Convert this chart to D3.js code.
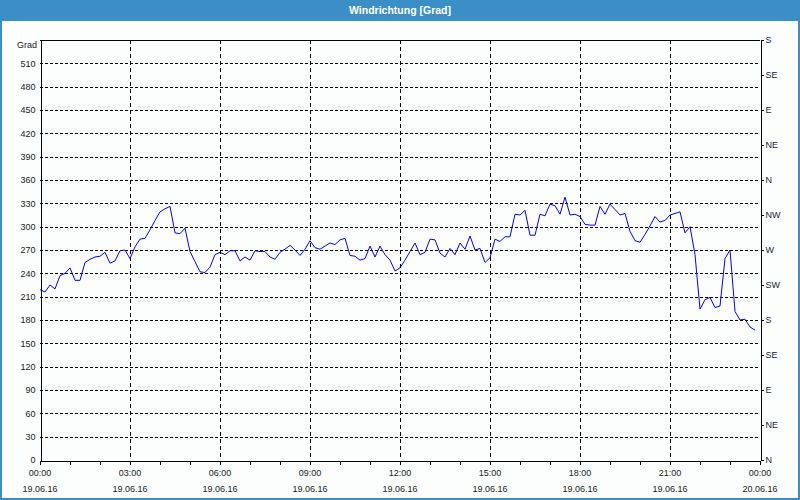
<!DOCTYPE html>
<html>
<head>
<meta charset="utf-8">
<script src="https://cdn.jsdelivr.net/npm/d3@7"></script>
<style>
  html, body { margin: 0; padding: 0; background: #ffffff; }
  svg { display: block; }
  text { font-family: "Liberation Sans", Arial, sans-serif; }
</style>
</head>
<body>
<div id="chart"></div>
<script>
// ---- data ----
const title = "Windrichtung [Grad]";
const unitLabel = "Grad";
const startTime = "2016-06-19T00:00:00";
const endTime = "2016-06-20T00:00:00";
const stepMinutes = 10;
const direction = [
  219, 216, 225, 220, 237, 240, 247, 231, 231, 254,
  258, 261, 262, 267, 253, 256, 269, 270, 259, 274,
  284, 285, 296, 308, 319, 323, 326, 292, 291, 298,
  268, 255, 242, 241, 248, 264, 267, 264, 269, 269,
  256, 261, 257, 269, 268, 268, 261, 258, 267, 271,
  276, 270, 263, 271, 282, 273, 271, 275, 279, 277,
  283, 285, 263, 262, 257, 259, 275, 261, 275, 264,
  257, 243, 247, 257, 268, 279, 264, 267, 284, 283,
  266, 261, 272, 264, 279, 271, 288, 270, 272, 254,
  260, 284, 281, 287, 287, 316, 315, 321, 289, 289,
  316, 314, 329, 327, 316, 338, 315, 316, 313, 303,
  302, 302, 326, 316, 329, 322, 315, 317, 294, 282,
  280, 290, 301, 313, 306, 308, 315, 317, 319, 292,
  300, 264, 194, 206, 209, 196, 198, 259, 270, 191,
  180, 181, 171, 167
];
const gradTicks = [0, 30, 60, 90, 120, 150, 180, 210, 240, 270, 300, 330, 360, 390, 420, 450, 480, 510];
const compassTicks = [0, 45, 90, 135, 180, 225, 270, 315, 360, 405, 450, 495, 540];
const compassLabels = ["N", "NE", "E", "SE", "S", "SW", "W", "NW", "N", "NE", "E", "SE", "S"];
const timeLabels = ["00:00", "03:00", "06:00", "09:00", "12:00", "15:00", "18:00", "21:00", "00:00"];
const dateLabels = ["19.06.16", "19.06.16", "19.06.16", "19.06.16", "19.06.16", "19.06.16", "19.06.16", "19.06.16", "20.06.16"];
const yMax = 540;

// ---- layout ----
const W = 800, H = 500;
const plot = { left: 40, right: 760, top: 40, bottom: 460 };
const frameBlue = "#3c8fc6";

const svg = d3.select("#chart").append("svg").attr("width", W).attr("height", H);

// background and frame
svg.append("rect").attr("x", 0).attr("y", 0).attr("width", W).attr("height", H).attr("fill", frameBlue);
svg.append("rect").attr("x", 2).attr("y", 21).attr("width", W - 4).attr("height", H - 23).attr("fill", "#fbfefd");
svg.append("text").attr("x", W / 2).attr("y", 14).attr("text-anchor", "middle")
  .attr("fill", "#ffffff").attr("font-size", "10.5px").attr("font-weight", "bold").text(title);

const t0 = new Date(startTime), t1 = new Date(endTime);
const x = d3.scaleTime().domain([t0, t1]).range([plot.left, plot.right]);
const y = d3.scaleLinear().domain([0, yMax]).range([plot.bottom, plot.top]);

const timeTicks = d3.timeHour.every(3).range(t0, new Date(+t1 + 1));
const hourTicks = d3.timeHour.every(1).range(t0, new Date(+t1 + 1));

// grid
const grid = svg.append("g").attr("shape-rendering", "crispEdges");
grid.selectAll("line.h").data(gradTicks.filter(d => d > 0)).join("line")
  .attr("x1", plot.left).attr("x2", plot.right)
  .attr("y1", d => Math.round(y(d)) + 0.5).attr("y2", d => Math.round(y(d)) + 0.5)
  .attr("stroke", "#000").attr("stroke-width", 1).attr("stroke-dasharray", "3,2");
grid.selectAll("line.v").data(timeTicks.slice(1, -1)).join("line")
  .attr("x1", d => Math.round(x(d)) + 0.5).attr("x2", d => Math.round(x(d)) + 0.5)
  .attr("y1", plot.top).attr("y2", plot.bottom)
  .attr("stroke", "#000").attr("stroke-width", 1).attr("stroke-dasharray", "4,3");

// frame lines (top, left, right, bottom)
const frame = svg.append("g").attr("shape-rendering", "crispEdges");
frame.append("line").attr("x1", plot.left).attr("x2", plot.right).attr("y1", plot.top + 0.5).attr("y2", plot.top + 0.5).attr("stroke", "#000");

// left axis
const leftAxis = d3.axisLeft(y).tickValues(gradTicks).tickSize(0).tickPadding(5).tickFormat(d3.format("d"));
const gL = svg.append("g").attr("transform", `translate(${plot.left + 0.5},0)`).call(leftAxis);
gL.select(".domain").attr("stroke", "#000").attr("shape-rendering", "crispEdges");
gL.selectAll("text").attr("fill", "#1a1a1a").attr("font-size", "9px").attr("font-family", "Liberation Sans, Arial, sans-serif");
svg.append("text").attr("x", plot.left - 3).attr("y", plot.top + 8).attr("text-anchor", "end")
  .attr("fill", "#1a1a1a").attr("font-size", "9px").text(unitLabel);

// right axis
const rightAxis = d3.axisRight(y).tickValues(compassTicks).tickSize(3).tickPadding(2)
  .tickFormat((d, i) => compassLabels[i]);
const gR = svg.append("g").attr("transform", `translate(${plot.right + 0.5},0)`).call(rightAxis);
gR.select(".domain").attr("stroke", "#000").attr("shape-rendering", "crispEdges");
gR.selectAll(".tick line").attr("stroke", "#000").attr("shape-rendering", "crispEdges");
gR.selectAll("text").attr("fill", "#1a1a3a").attr("font-size", "9px").attr("font-family", "Liberation Sans, Arial, sans-serif");

// bottom axis
const bottomAxis = d3.axisBottom(x).tickValues(hourTicks).tickSize(4).tickFormat("");
const gB = svg.append("g").attr("transform", `translate(0,${plot.bottom + 0.5})`).call(bottomAxis);
gB.select(".domain").attr("stroke", "#000").attr("shape-rendering", "crispEdges");
gB.selectAll(".tick line").attr("stroke", "#000").attr("shape-rendering", "crispEdges");

const labels = svg.append("g").attr("font-size", "9px").attr("fill", "#1a1a1a").attr("text-anchor", "middle");
labels.selectAll("text.time").data(timeTicks).join("text")
  .attr("x", d => x(d)).attr("y", 476).text((d, i) => timeLabels[i]);
labels.selectAll("text.date").data(timeTicks).join("text")
  .attr("x", d => x(d)).attr("y", 492).text((d, i) => dateLabels[i]);

// data line
const series = direction.map((v, i) => ({ t: new Date(+t0 + i * stepMinutes * 60000), v }));
const line = d3.line().x(d => x(d.t)).y(d => y(d.v));
svg.append("path").datum(series).attr("d", line)
  .attr("fill", "none").attr("stroke", "#0000ff").attr("stroke-width", 1);
</script>
</body>
</html>
